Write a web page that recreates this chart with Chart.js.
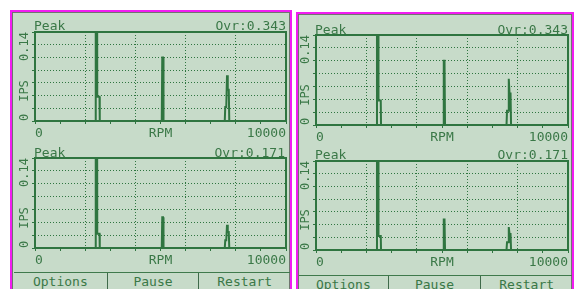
<!DOCTYPE html>
<html>
<head>
<meta charset="utf-8">
<script src="https://cdn.jsdelivr.net/npm/chart.js@4/dist/chart.umd.min.js"></script>
<style>
  body { margin: 0; width: 578px; height: 289px; background: #fff; position: relative; overflow: hidden;
         font-family: "DejaVu Sans Mono", monospace; }
  .panel { position: absolute; box-sizing: border-box; border: 2px solid #f21cf2; background: #c7dbc9;
           box-shadow: inset 0 0 0 1px #6f756f; }
  canvas { position: absolute; }
  .head { position: absolute; display: flex; justify-content: space-between; font-size: 13px;
          line-height: 13px; color: #3a7847; }
  .btns { position: absolute; display: flex; border-top: 1px solid #3f7a4c; font-size: 13px;
          color: #3a7847; height: 20px; line-height: 18px; }
  .btns div { text-align: center; }
  .btns div + div { border-left: 1px solid #3f6a4a; }
</style>
</head>
<body>
<div class="panel" style="left:10px;top:10px;width:282px;height:290px;"></div>
<div class="panel" style="left:296px;top:12px;width:278px;height:290px;"></div>

<canvas id="lt" width="276" height="126" style="left:14px;top:14px;"></canvas>
<canvas id="lb" width="276" height="132" style="left:14px;top:140px;"></canvas>
<canvas id="rt" width="273" height="127" style="left:299px;top:16px;"></canvas>
<canvas id="rb" width="273" height="132" style="left:299px;top:143px;"></canvas>

<div class="head" style="left:34px;top:19px;width:252px;"><span>Peak</span><span>Ovr:0.343</span></div>
<div class="head" style="left:34px;top:146px;width:251px;"><span>Peak</span><span>Ovr:0.171</span></div>
<div class="head" style="left:315px;top:23px;width:253px;"><span>Peak</span><span>Ovr:0.343</span></div>
<div class="head" style="left:315px;top:148px;width:253px;"><span>Peak</span><span>Ovr:0.171</span></div>

<div class="btns" style="left:14px;top:272px;width:276px;">
  <div style="width:93px;">Options</div><div style="width:91px;">Pause</div><div style="width:91px;">Restart</div>
</div>
<div class="btns" style="left:299px;top:275px;width:273px;">
  <div style="width:89px;">Options</div><div style="width:92px;">Pause</div><div style="width:91px;">Restart</div>
</div>

<script>
// spectrum, upper plot (overall 0.343)
const rpmTop = [0, 2400, 2420, 2470, 2480, 2570, 2580, 5050, 5070, 5100, 5120,
                7560, 7580, 7620, 7650, 7680, 7720, 7740, 10000];
const ipsTop = [0, 0, 0.4, 0.4, 0.038, 0.038, 0, 0, 0.1, 0.1, 0,
                0, 0.022, 0.022, 0.072, 0.049, 0.049, 0, 0];

// spectrum, lower plot (overall 0.171)
const rpmBottom = [0, 2400, 2420, 2470, 2480, 2570, 2580, 5050, 5070, 5100, 5120,
                   7560, 7580, 7620, 7650, 7680, 7720, 7740, 10000];
const ipsBottom = [0, 0, 0.4, 0.4, 0.022, 0.022, 0, 0, 0.048, 0.048, 0,
                   0, 0.012, 0.012, 0.036, 0.025, 0.025, 0, 0];

const xTickValues = [0, 5000, 10000];
const xTickLabels = ["0", "RPM", "10000"];
const yAxisLabels = ["0", "IPS", "0.14"];

const GREEN = "#2f7540";
const TEXT = "#3a7847";

// box round the plot and the rotated IPS labels
const framePlugin = {
  id: "frame",
  afterDraw(chart) {
    const { ctx, chartArea: a } = chart;
    ctx.save();
    ctx.strokeStyle = GREEN;
    ctx.lineWidth = 2;
    ctx.strokeRect(a.left, a.top, a.right - a.left, a.bottom - a.top);
    ctx.fillStyle = TEXT;
    ctx.font = '12px "DejaVu Sans Mono"';
    ctx.textBaseline = "middle";
    const x = a.left - 10;
    const spots = [[a.bottom, "left"], [a.bottom - 30, "center"], [a.top, "right"]];
    spots.forEach(([y, align], i) => {
      ctx.save();
      ctx.translate(x, y);
      ctx.rotate(-Math.PI / 2);
      ctx.textAlign = align;
      ctx.fillText(yAxisLabels[i], 0, 0);
      ctx.restore();
    });
    ctx.restore();
  }
};

function makeChart(id, rpm, ips, padTop, yWidth, xHeight) {
  new Chart(document.getElementById(id), {
    type: "line",
    data: {
      datasets: [{
        data: rpm.map((r, i) => ({ x: r, y: ips[i] })),
        borderColor: GREEN,
        borderWidth: 2,
        pointRadius: 0,
        tension: 0,
        fill: false
      }]
    },
    options: {
      responsive: false,
      animation: false,
      layout: { padding: { top: padTop, right: 4, left: 0, bottom: 0 } },
      plugins: { legend: { display: false }, tooltip: { enabled: false } },
      scales: {
        x: {
          type: "linear",
          min: 0,
          max: 10000,
          ticks: {
            stepSize: 1000,
            autoSkip: false,
            maxRotation: 0,
            align: "inner",
            padding: 2,
            color: TEXT,
            font: { family: "DejaVu Sans Mono", size: 13 },
            callback: v => {
              const k = xTickValues.indexOf(v);
              return k < 0 ? "" : xTickLabels[k];
            }
          },
          grid: {
            color: c => (c.tick && c.tick.value % 2000 === 0 && c.tick.value > 0 && c.tick.value < 10000) ? GREEN : "transparent",
            tickBorderDash: [],
            tickColor: GREEN,
            tickLength: 3
          },
          border: { display: false, dash: [1, 2] },
          afterFit: s => { s.height = xHeight; }
        },
        y: {
          min: 0,
          max: 0.14,
          ticks: { stepSize: 0.02, display: false },
          grid: {
            color: c => (c.tick && c.tick.value > 0.001 && c.tick.value < 0.139) ? GREEN : "transparent",
            tickBorderDash: [],
            tickColor: GREEN,
            tickLength: 3
          },
          border: { display: false, dash: [1, 2] },
          afterFit: s => { s.width = yWidth; }
        }
      }
    },
    plugins: [framePlugin]
  });
}

makeChart("lt", rpmTop, ipsTop, 18, 21, 19);
makeChart("lb", rpmBottom, ipsBottom, 18, 21, 24);
makeChart("rt", rpmTop, ipsTop, 19, 17, 18);
makeChart("rb", rpmBottom, ipsBottom, 18, 17, 25);
</script>
</body>
</html>
